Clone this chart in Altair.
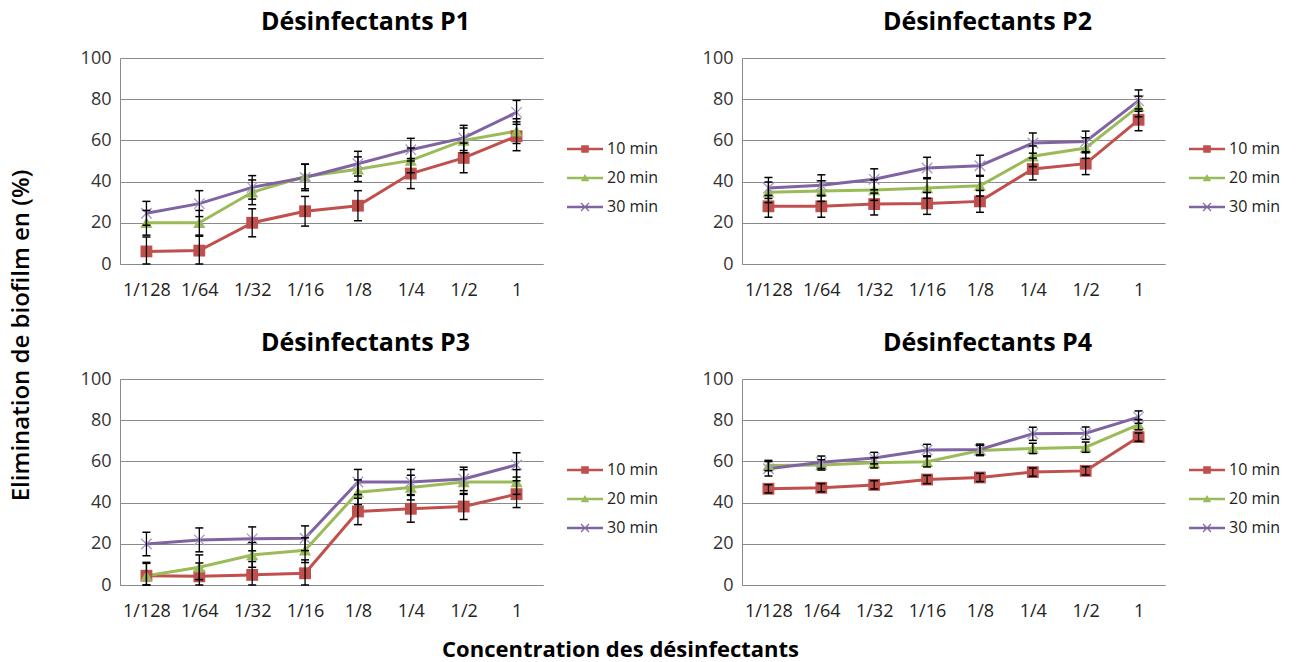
import altair as alt
import pandas as pd

concentrations = ["1/128", "1/64", "1/32", "1/16", "1/8", "1/4", "1/2", "1"]
series = ["10 min", "20 min", "30 min"]
panels = ["Désinfectants P1", "Désinfectants P2", "Désinfectants P3", "Désinfectants P4"]

# values (% biofilm elimination) per panel and series
p1_10 = [6.1, 6.5, 20.0, 25.6, 28.3, 43.9, 51.5, 62.0]
p1_20 = [20.0, 20.0, 34.8, 42.5, 46.0, 50.3, 60.0, 64.5]
p1_30 = [24.6, 29.3, 37.2, 42.0, 48.7, 55.5, 61.2, 73.6]
p2_10 = [28.0, 28.0, 29.1, 29.4, 30.4, 46.1, 48.7, 70.0]
p2_20 = [34.8, 35.4, 35.9, 36.9, 38.0, 52.3, 56.3, 76.5]
p2_30 = [36.9, 38.2, 41.1, 46.6, 47.7, 58.7, 59.5, 79.3]
p3_10 = [4.5, 4.2, 4.9, 5.7, 35.7, 37.0, 38.1, 44.1]
p3_20 = [4.5, 8.6, 14.6, 16.9, 45.0, 47.3, 50.0, 50.0]
p3_30 = [19.9, 21.9, 22.4, 22.7, 50.0, 50.0, 51.5, 58.3]
p4_10 = [46.7, 47.2, 48.6, 51.2, 52.2, 54.8, 55.4, 71.8]
p4_20 = [58.0, 58.3, 59.3, 59.8, 65.3, 66.3, 66.9, 77.8]
p4_30 = [56.4, 59.6, 61.6, 65.5, 65.8, 73.4, 73.7, 81.5]

# error bar half-widths
p1_e10 = [7.0, 7.0, 6.8, 7.2, 7.3, 7.3, 7.2, 7.0]
p1_e20 = [6.0, 6.0, 6.0, 6.0, 6.0, 6.0, 6.0, 6.0]
p1_e30 = [5.8, 6.3, 5.7, 6.4, 6.0, 5.5, 6.1, 5.8]
p2_e10 = [5.3, 5.3, 5.3, 5.3, 5.3, 5.3, 5.3, 5.3]
p2_e20 = [5.0, 5.0, 5.0, 5.0, 5.0, 5.0, 5.0, 5.0]
p2_e30 = [5.1, 5.1, 5.1, 5.2, 5.1, 4.9, 5.0, 5.2]
p3_e10 = [6.5, 6.5, 6.5, 6.5, 6.4, 6.5, 6.3, 6.5]
p3_e20 = [6.0, 6.0, 6.0, 6.0, 6.0, 6.0, 6.0, 6.0]
p3_e30 = [5.7, 5.8, 5.8, 6.0, 6.1, 6.1, 5.7, 5.9]
p4_e10 = [2.0, 2.0, 2.0, 2.0, 2.0, 2.0, 2.0, 2.0]
p4_e20 = [2.5, 2.5, 2.5, 2.5, 2.5, 2.5, 2.5, 2.5]
p4_e30 = [3.5, 3.0, 2.8, 2.8, 2.6, 3.2, 3.0, 3.0]

values = {
    panels[0]: [p1_10, p1_20, p1_30],
    panels[1]: [p2_10, p2_20, p2_30],
    panels[2]: [p3_10, p3_20, p3_30],
    panels[3]: [p4_10, p4_20, p4_30],
}
errors = {
    panels[0]: [p1_e10, p1_e20, p1_e30],
    panels[1]: [p2_e10, p2_e20, p2_e30],
    panels[2]: [p3_e10, p3_e20, p3_e30],
    panels[3]: [p4_e10, p4_e20, p4_e30],
}

rows = []
for p in panels:
    for si, s in enumerate(series):
        for ci, c in enumerate(concentrations):
            v = values[p][si][ci]
            e = errors[p][si][ci]
            rows.append({"panel": p, "series": s, "order": si, "conc": c,
                         "value": v, "lo": max(v - e, 0), "hi": v + e})
df = pd.DataFrame(rows)

RED, GREEN, PURPLE, LAVENDER = "#C0504D", "#9BBB59", "#8064A2", "#A897CC"
FONT = "Open Sans"

LINE = "M-1.8,-0.13L1.8,-0.13L1.8,0.13L-1.8,0.13Z "
legend_paths = [
    LINE + "M-0.38,-0.38L0.38,-0.38L0.38,0.38L-0.38,0.38Z",
    LINE + "M-0.42,0.32L0,-0.4L0.42,0.32Z",
    LINE + "M-0.36,-0.44L0.44,0.36L0.36,0.44L-0.44,-0.36Z "
    "M-0.44,0.36L0.36,-0.44L0.44,-0.36L-0.36,0.44Z",
]

W, H = 423, 206


def panel(name):
    base = alt.Chart(df).transform_filter(alt.datum.panel == name)
    x = alt.X("conc:N", sort=concentrations,
              scale=alt.Scale(type="point", padding=0.5),
              axis=alt.Axis(title=None, labelAngle=0, labelFont=FONT, labelFontSize=18,
                            labelColor="#222", labelPadding=17, ticks=False, grid=False,
                            domainColor="#8a8a8a", domainWidth=1))
    y = alt.Y("value:Q", scale=alt.Scale(domain=[0, 100], nice=False),
              axis=alt.Axis(title=None, values=[0, 20, 40, 60, 80, 100], labelFont=FONT,
                            labelFontSize=18, labelColor="#333", labelPadding=9, ticks=False,
                            grid=True, gridColor="#8a8a8a", gridWidth=1,
                            domainColor="#8a8a8a", domainWidth=1))

    def s(i):
        return base.transform_filter(alt.datum.series == series[i])

    l1 = s(0).mark_line(strokeWidth=3, color=RED).encode(x=x, y=y)
    l2 = s(1).mark_line(strokeWidth=3, color=GREEN).encode(x=x, y=y)
    l3 = s(2).mark_line(strokeWidth=3, color=PURPLE).encode(x=x, y=y)
    sq = s(0).mark_point(shape="square", filled=True, size=140, color=RED,
                         opacity=1).encode(x=x, y=y)
    tri = s(1).mark_point(shape="triangle-up", filled=True, size=150, color=GREEN,
                          opacity=1).encode(x=x, y=y)
    crs = s(2).mark_point(shape="M-1,-1L1,1M-1,1L1,-1", filled=False, size=110,
                          strokeWidth=1.3, color=LAVENDER, opacity=1).encode(x=x, y=y)

    rule = base.mark_rule(color="black", strokeWidth=1.3).encode(
        x=x, y=alt.Y("lo:Q"), y2="hi:Q")
    cap_lo = base.mark_tick(color="black", thickness=1.5, size=8, opacity=1).encode(
        x=x, y=alt.Y("lo:Q"))
    cap_hi = base.mark_tick(color="black", thickness=1.5, size=8, opacity=1).encode(
        x=x, y=alt.Y("hi:Q"))

    leg = alt.Legend(title=None, orient="none", legendX=455, legendY=81,
                     labelFont=FONT, labelFontSize=16, labelColor="#222",
                     symbolSize=400, symbolStrokeWidth=0, labelOffset=12,
                     rowPadding=11, symbolOpacity=1)
    legend_layer = base.transform_filter("datum.value < -1000").mark_point(
        filled=True, size=400, opacity=1).encode(
        color=alt.Color("series:N", scale=alt.Scale(domain=series,
                                                    range=[RED, GREEN, PURPLE]),
                        legend=leg),
        shape=alt.Shape("series:N", scale=alt.Scale(domain=series, range=legend_paths),
                        legend=leg),
    )

    return alt.layer(l1, l2, l3, sq, tri, crs, rule, cap_lo, cap_hi,
                     legend_layer).properties(
        width=W, height=H,
        title=alt.TitleParams(name, font=FONT, fontSize=25, fontWeight="bold",
                              color="black", anchor="middle", frame="group", dx=34,
                              offset=14),
    )


def indep(c):
    return c.resolve_scale(color="independent", shape="independent").resolve_legend(
        color="independent", shape="independent")


row1 = indep(alt.hconcat(panel(panels[0]), panel(panels[1]), spacing=43))
row2 = indep(alt.hconcat(panel(panels[2]), panel(panels[3]), spacing=43))
inner = indep(alt.vconcat(row1, row2, spacing=32,
                    title=alt.TitleParams("Concentration des désinfectants", orient="bottom",
                                          font=FONT, fontSize=22, fontWeight="bold",
                                          color="black", anchor="middle", offset=20,
                                          dx=-60)))
chart = indep(alt.hconcat(inner, title=alt.TitleParams(
    "Elimination de biofilm en (%)", orient="left", font=FONT, fontSize=24,
    fontWeight=600, color="black", anchor="middle", offset=46))).properties(
    padding={"left": 10, "top": 10, "right": 5, "bottom": 5}).configure_view(
    stroke=None).configure_concat(spacing=0)

chart.save("out.html", embed_options={"renderer": "svg", "actions": False})
